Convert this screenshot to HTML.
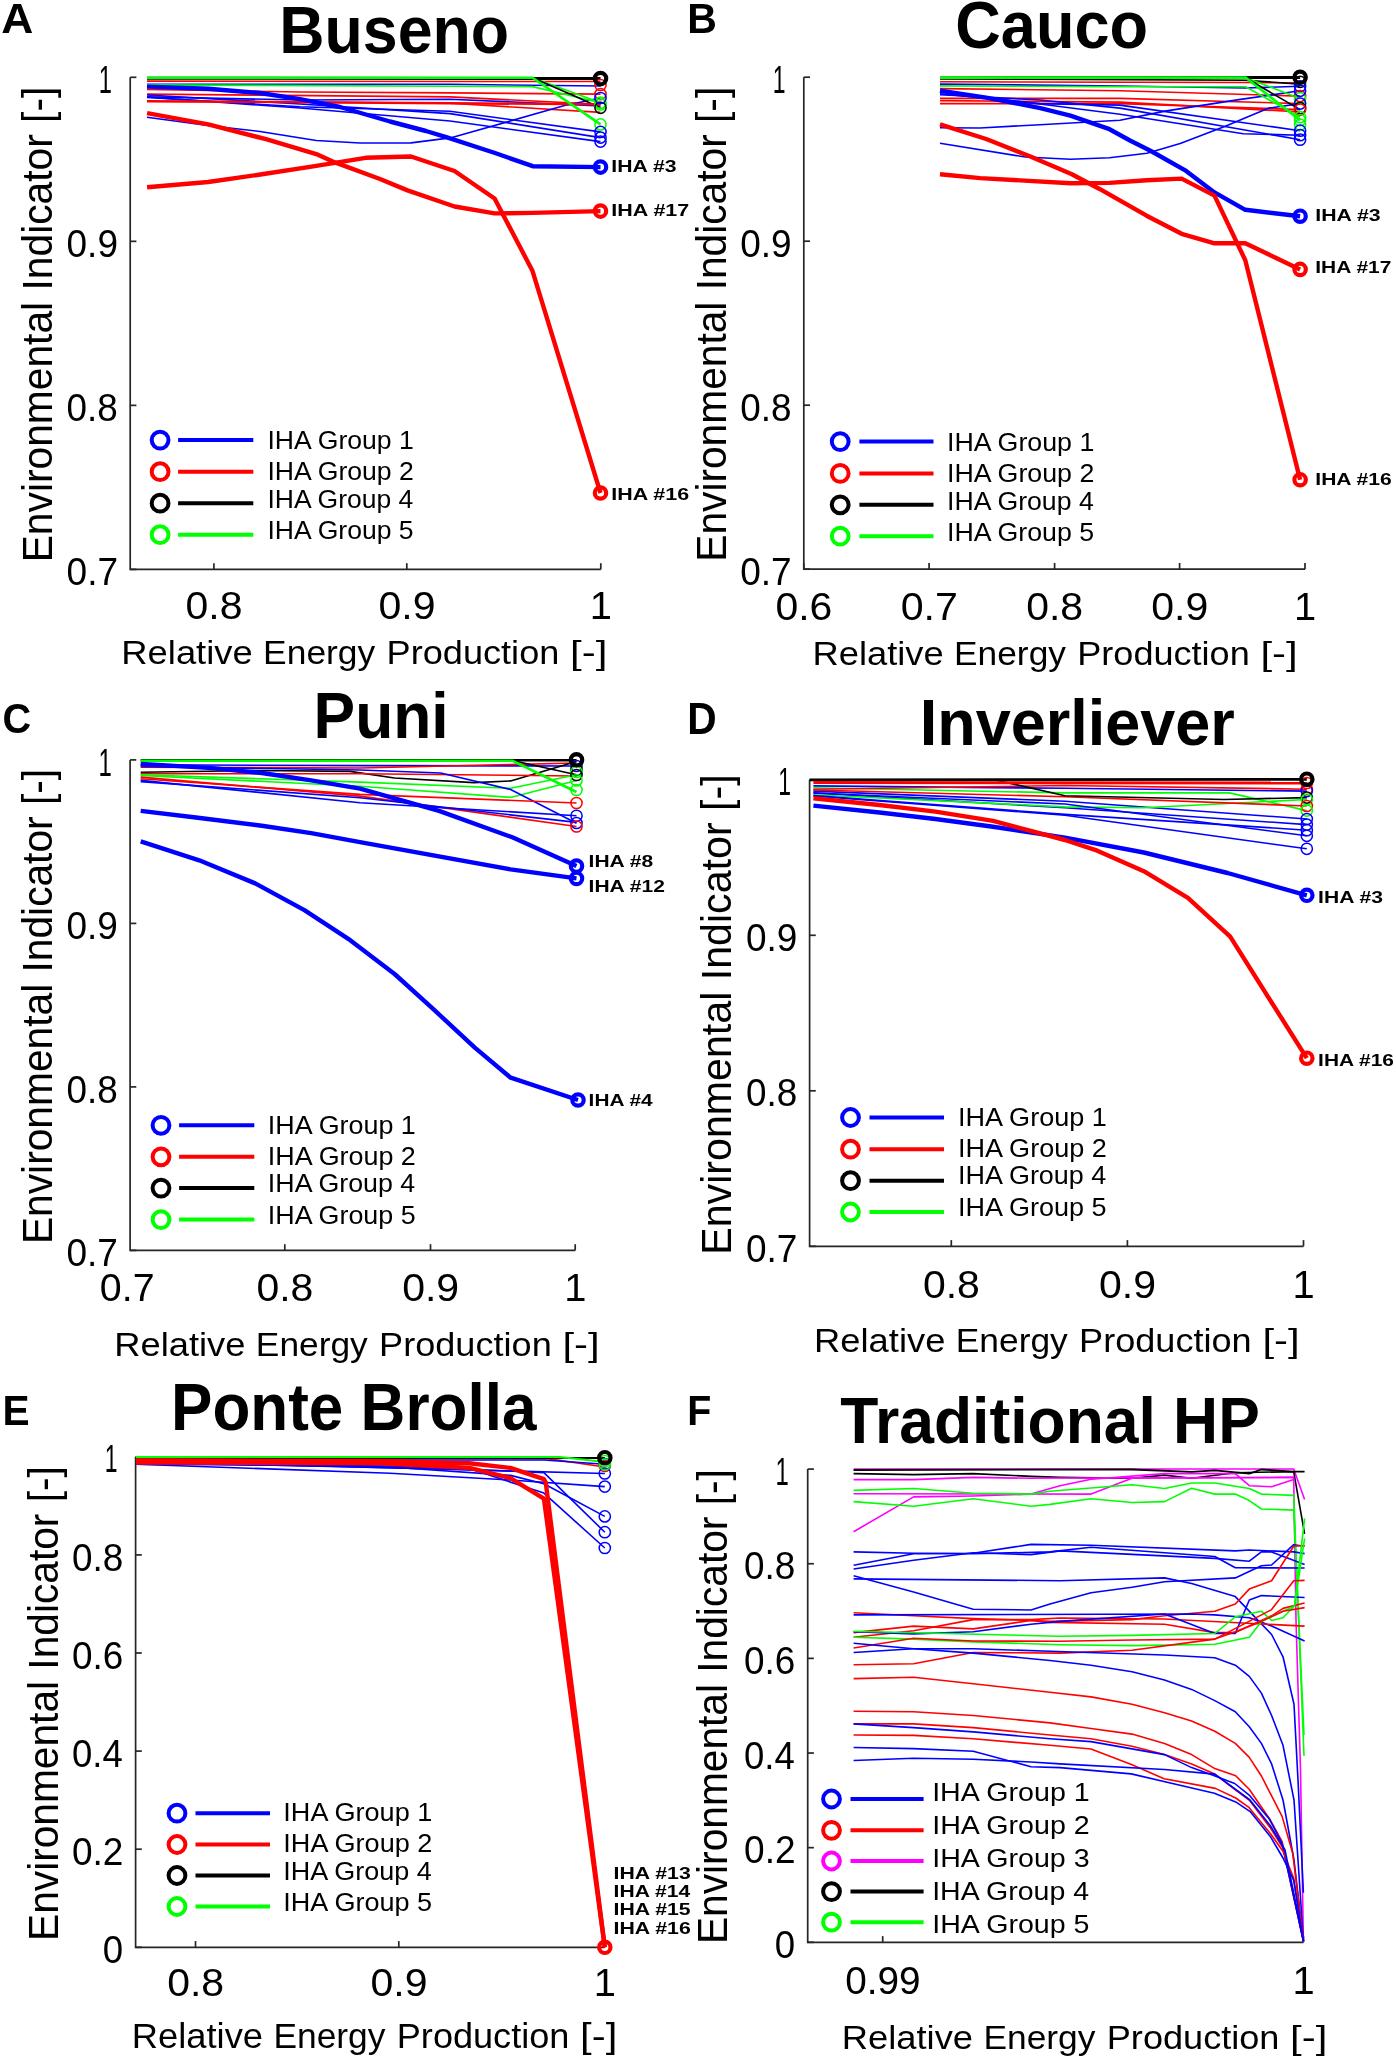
<!DOCTYPE html>
<html><head><meta charset="utf-8"><style>
html,body{margin:0;padding:0;background:#fff;}
svg{display:block;font-family:"Liberation Sans",sans-serif;will-change:transform;}
</style></head><body>
<svg width="1396" height="2059" viewBox="0 0 1396 2059">
<rect width="1396" height="2059" fill="#fff"/>
<text x="1.19" y="32.80" font-size="43.31" font-weight="bold" textLength="32.08" lengthAdjust="spacingAndGlyphs" fill="#000" >A</text>
<text x="279.21" y="52.80" font-size="65.84" font-weight="bold" textLength="229.94" lengthAdjust="spacingAndGlyphs" fill="#000" >Buseno</text>
<path d="M130.2,77.3 V569.4 H600.8" fill="none" stroke="#262626" stroke-width="1.7"/>
<path d="M213.9,569.4 v-6.2" stroke="#262626" stroke-width="1.7"/>
<path d="M406.8,569.4 v-6.2" stroke="#262626" stroke-width="1.7"/>
<path d="M600.8,569.4 v-6.2" stroke="#262626" stroke-width="1.7"/>
<path d="M130.2,77.3 h6.2" stroke="#262626" stroke-width="1.7"/>
<path d="M130.2,241.33333333333331 h6.2" stroke="#262626" stroke-width="1.7"/>
<path d="M130.2,405.3666666666667 h6.2" stroke="#262626" stroke-width="1.7"/>
<path d="M130.2,569.4 h6.2" stroke="#262626" stroke-width="1.7"/>
<text x="98.80" y="92.90" font-size="38.00" font-weight="normal" textLength="13.16" lengthAdjust="spacingAndGlyphs" fill="#000" >1</text>
<text x="66.56" y="256.93" font-size="38.00" font-weight="normal" textLength="51.40" lengthAdjust="spacingAndGlyphs" fill="#000" >0.9</text>
<text x="66.56" y="420.97" font-size="38.00" font-weight="normal" textLength="51.24" lengthAdjust="spacingAndGlyphs" fill="#000" >0.8</text>
<text x="66.55" y="585.00" font-size="38.00" font-weight="normal" textLength="51.51" lengthAdjust="spacingAndGlyphs" fill="#000" >0.7</text>
<text x="185.55" y="619.10" font-size="39.00" font-weight="normal" textLength="56.88" lengthAdjust="spacingAndGlyphs" fill="#000" >0.8</text>
<text x="378.45" y="619.10" font-size="39.00" font-weight="normal" textLength="57.05" lengthAdjust="spacingAndGlyphs" fill="#000" >0.9</text>
<text x="589.86" y="619.10" font-size="39.00" font-weight="normal" textLength="22.19" lengthAdjust="spacingAndGlyphs" fill="#000" >1</text>
<text transform="translate(52.30,559.00) rotate(-90)" x="-3.34" y="0" font-size="43.31" textLength="475.65" lengthAdjust="spacingAndGlyphs" fill="#000">Environmental Indicator [-]</text>
<text x="121.32" y="663.50" font-size="33.87" font-weight="normal" textLength="131.39" lengthAdjust="spacingAndGlyphs" fill="#000" >Relative</text>
<text x="263.12" y="663.50" font-size="33.87" font-weight="normal" textLength="112.10" lengthAdjust="spacingAndGlyphs" fill="#000" >Energy</text>
<text x="386.54" y="663.50" font-size="33.87" font-weight="normal" textLength="172.82" lengthAdjust="spacingAndGlyphs" fill="#000" >Production</text>
<text x="570.11" y="663.50" font-size="33.87" font-weight="normal" textLength="37.28" lengthAdjust="spacingAndGlyphs" fill="#000" >[-]</text>
<circle cx="160.1" cy="440.1" r="8.4" fill="none" stroke="#0000ff" stroke-width="4.0"/>
<path d="M178.1,440.1 H253.3" stroke="#0000ff" stroke-width="4"/>
<circle cx="160.1" cy="471.7" r="8.4" fill="none" stroke="#ff0000" stroke-width="4.0"/>
<path d="M178.1,471.7 H253.3" stroke="#ff0000" stroke-width="4"/>
<circle cx="160.1" cy="503.2" r="8.4" fill="none" stroke="#000000" stroke-width="4.0"/>
<path d="M178.1,503.2 H253.3" stroke="#000000" stroke-width="4"/>
<circle cx="160.1" cy="534.7" r="8.4" fill="none" stroke="#00ff00" stroke-width="4.0"/>
<path d="M178.1,534.7 H253.3" stroke="#00ff00" stroke-width="4"/>
<text x="267.47" y="449.10" font-size="26.50" font-weight="normal" textLength="146.31" lengthAdjust="spacingAndGlyphs" fill="#000" >IHA Group 1</text>
<text x="267.47" y="480.20" font-size="26.50" font-weight="normal" textLength="146.35" lengthAdjust="spacingAndGlyphs" fill="#000" >IHA Group 2</text>
<text x="267.48" y="507.60" font-size="26.50" font-weight="normal" textLength="145.79" lengthAdjust="spacingAndGlyphs" fill="#000" >IHA Group 4</text>
<text x="267.47" y="539.30" font-size="26.50" font-weight="normal" textLength="146.13" lengthAdjust="spacingAndGlyphs" fill="#000" >IHA Group 5</text>
<text x="687.26" y="32.80" font-size="43.31" font-weight="bold" textLength="29.60" lengthAdjust="spacingAndGlyphs" fill="#000" >B</text>
<text x="955.31" y="48.00" font-size="65.84" font-weight="bold" textLength="192.75" lengthAdjust="spacingAndGlyphs" fill="#000" >Cauco</text>
<path d="M803.8,77.2 V569.2 H1305" fill="none" stroke="#262626" stroke-width="1.7"/>
<path d="M803.8,569.2 v-6.2" stroke="#262626" stroke-width="1.7"/>
<path d="M929.1,569.2 v-6.2" stroke="#262626" stroke-width="1.7"/>
<path d="M1054.6,569.2 v-6.2" stroke="#262626" stroke-width="1.7"/>
<path d="M1179.6,569.2 v-6.2" stroke="#262626" stroke-width="1.7"/>
<path d="M1305,569.2 v-6.2" stroke="#262626" stroke-width="1.7"/>
<path d="M803.8,77.2 h6.2" stroke="#262626" stroke-width="1.7"/>
<path d="M803.8,241.20000000000005 h6.2" stroke="#262626" stroke-width="1.7"/>
<path d="M803.8,405.20000000000005 h6.2" stroke="#262626" stroke-width="1.7"/>
<path d="M803.8,569.2 h6.2" stroke="#262626" stroke-width="1.7"/>
<text x="772.65" y="92.80" font-size="38.00" font-weight="normal" textLength="12.77" lengthAdjust="spacingAndGlyphs" fill="#000" >1</text>
<text x="740.16" y="256.80" font-size="38.00" font-weight="normal" textLength="51.40" lengthAdjust="spacingAndGlyphs" fill="#000" >0.9</text>
<text x="740.16" y="420.80" font-size="38.00" font-weight="normal" textLength="51.24" lengthAdjust="spacingAndGlyphs" fill="#000" >0.8</text>
<text x="740.15" y="584.80" font-size="38.00" font-weight="normal" textLength="51.51" lengthAdjust="spacingAndGlyphs" fill="#000" >0.7</text>
<text x="775.45" y="619.80" font-size="39.00" font-weight="normal" textLength="56.90" lengthAdjust="spacingAndGlyphs" fill="#000" >0.6</text>
<text x="900.74" y="619.80" font-size="39.00" font-weight="normal" textLength="57.18" lengthAdjust="spacingAndGlyphs" fill="#000" >0.7</text>
<text x="1026.25" y="619.80" font-size="39.00" font-weight="normal" textLength="56.88" lengthAdjust="spacingAndGlyphs" fill="#000" >0.8</text>
<text x="1151.25" y="619.80" font-size="39.00" font-weight="normal" textLength="57.05" lengthAdjust="spacingAndGlyphs" fill="#000" >0.9</text>
<text x="1294.06" y="619.80" font-size="39.00" font-weight="normal" textLength="22.19" lengthAdjust="spacingAndGlyphs" fill="#000" >1</text>
<text transform="translate(725.80,558.40) rotate(-90)" x="-3.34" y="0" font-size="42.15" textLength="474.94" lengthAdjust="spacingAndGlyphs" fill="#000">Environmental Indicator [-]</text>
<text x="812.52" y="665.00" font-size="33.87" font-weight="normal" textLength="131.15" lengthAdjust="spacingAndGlyphs" fill="#000" >Relative</text>
<text x="954.06" y="665.00" font-size="33.87" font-weight="normal" textLength="111.89" lengthAdjust="spacingAndGlyphs" fill="#000" >Energy</text>
<text x="1077.25" y="665.00" font-size="33.87" font-weight="normal" textLength="172.50" lengthAdjust="spacingAndGlyphs" fill="#000" >Production</text>
<text x="1260.47" y="665.00" font-size="33.87" font-weight="normal" textLength="37.21" lengthAdjust="spacingAndGlyphs" fill="#000" >[-]</text>
<circle cx="840.2" cy="441.6" r="8.4" fill="none" stroke="#0000ff" stroke-width="4.0"/>
<path d="M859.4,441.6 H933.5" stroke="#0000ff" stroke-width="4"/>
<circle cx="840.2" cy="473.4" r="8.4" fill="none" stroke="#ff0000" stroke-width="4.0"/>
<path d="M859.4,473.4 H933.5" stroke="#ff0000" stroke-width="4"/>
<circle cx="840.2" cy="504.8" r="8.4" fill="none" stroke="#000000" stroke-width="4.0"/>
<path d="M859.4,504.8 H933.5" stroke="#000000" stroke-width="4"/>
<circle cx="840.2" cy="536.2" r="8.4" fill="none" stroke="#00ff00" stroke-width="4.0"/>
<path d="M859.4,536.2 H933.5" stroke="#00ff00" stroke-width="4"/>
<text x="947.06" y="450.60" font-size="26.50" font-weight="normal" textLength="147.24" lengthAdjust="spacingAndGlyphs" fill="#000" >IHA Group 1</text>
<text x="947.05" y="482.40" font-size="26.50" font-weight="normal" textLength="147.28" lengthAdjust="spacingAndGlyphs" fill="#000" >IHA Group 2</text>
<text x="947.06" y="509.80" font-size="26.50" font-weight="normal" textLength="146.71" lengthAdjust="spacingAndGlyphs" fill="#000" >IHA Group 4</text>
<text x="947.06" y="541.20" font-size="26.50" font-weight="normal" textLength="147.05" lengthAdjust="spacingAndGlyphs" fill="#000" >IHA Group 5</text>
<text x="2.47" y="733.20" font-size="43.17" font-weight="bold" textLength="28.72" lengthAdjust="spacingAndGlyphs" fill="#000" >C</text>
<text x="313.53" y="738.00" font-size="64.97" font-weight="bold" textLength="135.19" lengthAdjust="spacingAndGlyphs" fill="#000" >Puni</text>
<path d="M130.1,759.9 V1250.4 H575.2" fill="none" stroke="#262626" stroke-width="1.7"/>
<path d="M284.8,1250.4 v-6.2" stroke="#262626" stroke-width="1.7"/>
<path d="M430.5,1250.4 v-6.2" stroke="#262626" stroke-width="1.7"/>
<path d="M575.2,1250.4 v-6.2" stroke="#262626" stroke-width="1.7"/>
<path d="M130.1,759.9 h6.2" stroke="#262626" stroke-width="1.7"/>
<path d="M130.1,923.4 h6.2" stroke="#262626" stroke-width="1.7"/>
<path d="M130.1,1086.9 h6.2" stroke="#262626" stroke-width="1.7"/>
<path d="M130.1,1250.4 h6.2" stroke="#262626" stroke-width="1.7"/>
<text x="98.58" y="775.50" font-size="38.00" font-weight="normal" textLength="13.29" lengthAdjust="spacingAndGlyphs" fill="#000" >1</text>
<text x="66.46" y="939.00" font-size="38.00" font-weight="normal" textLength="51.40" lengthAdjust="spacingAndGlyphs" fill="#000" >0.9</text>
<text x="66.46" y="1102.50" font-size="38.00" font-weight="normal" textLength="51.24" lengthAdjust="spacingAndGlyphs" fill="#000" >0.8</text>
<text x="66.45" y="1266.00" font-size="38.00" font-weight="normal" textLength="51.51" lengthAdjust="spacingAndGlyphs" fill="#000" >0.7</text>
<text x="99.86" y="1300.80" font-size="39.00" font-weight="normal" textLength="54.72" lengthAdjust="spacingAndGlyphs" fill="#000" >0.7</text>
<text x="256.45" y="1300.80" font-size="39.00" font-weight="normal" textLength="56.88" lengthAdjust="spacingAndGlyphs" fill="#000" >0.8</text>
<text x="402.15" y="1300.80" font-size="39.00" font-weight="normal" textLength="57.05" lengthAdjust="spacingAndGlyphs" fill="#000" >0.9</text>
<text x="564.26" y="1300.80" font-size="39.00" font-weight="normal" textLength="22.19" lengthAdjust="spacingAndGlyphs" fill="#000" >1</text>
<text transform="translate(52.00,1240.70) rotate(-90)" x="-3.34" y="0" font-size="42.01" textLength="475.14" lengthAdjust="spacingAndGlyphs" fill="#000">Environmental Indicator [-]</text>
<text x="114.22" y="1355.80" font-size="33.58" font-weight="normal" textLength="131.23" lengthAdjust="spacingAndGlyphs" fill="#000" >Relative</text>
<text x="255.85" y="1355.80" font-size="33.58" font-weight="normal" textLength="111.96" lengthAdjust="spacingAndGlyphs" fill="#000" >Energy</text>
<text x="379.11" y="1355.80" font-size="33.58" font-weight="normal" textLength="172.60" lengthAdjust="spacingAndGlyphs" fill="#000" >Production</text>
<text x="562.45" y="1355.80" font-size="33.58" font-weight="normal" textLength="37.24" lengthAdjust="spacingAndGlyphs" fill="#000" >[-]</text>
<circle cx="161.0" cy="1125.3" r="8.4" fill="none" stroke="#0000ff" stroke-width="4.0"/>
<path d="M179.1,1125.3 H254.3" stroke="#0000ff" stroke-width="4"/>
<circle cx="161.0" cy="1156.8" r="8.4" fill="none" stroke="#ff0000" stroke-width="4.0"/>
<path d="M179.1,1156.8 H254.3" stroke="#ff0000" stroke-width="4"/>
<circle cx="161.0" cy="1188.1" r="8.4" fill="none" stroke="#000000" stroke-width="4.0"/>
<path d="M179.1,1188.1 H254.3" stroke="#000000" stroke-width="4"/>
<circle cx="161.0" cy="1219.6" r="8.4" fill="none" stroke="#00ff00" stroke-width="4.0"/>
<path d="M179.1,1219.6 H254.3" stroke="#00ff00" stroke-width="4"/>
<text x="267.84" y="1133.70" font-size="26.50" font-weight="normal" textLength="147.96" lengthAdjust="spacingAndGlyphs" fill="#000" >IHA Group 1</text>
<text x="267.84" y="1165.00" font-size="26.50" font-weight="normal" textLength="148.00" lengthAdjust="spacingAndGlyphs" fill="#000" >IHA Group 2</text>
<text x="267.85" y="1192.30" font-size="26.50" font-weight="normal" textLength="147.42" lengthAdjust="spacingAndGlyphs" fill="#000" >IHA Group 4</text>
<text x="267.85" y="1224.00" font-size="26.50" font-weight="normal" textLength="147.77" lengthAdjust="spacingAndGlyphs" fill="#000" >IHA Group 5</text>
<text x="687.27" y="733.70" font-size="43.46" font-weight="bold" textLength="29.44" lengthAdjust="spacingAndGlyphs" fill="#000" >D</text>
<text x="919.69" y="745.40" font-size="64.83" font-weight="bold" textLength="315.17" lengthAdjust="spacingAndGlyphs" fill="#000" >Inverliever</text>
<path d="M809.6,779.8 V1246.3 H1303.5" fill="none" stroke="#262626" stroke-width="1.7"/>
<path d="M951.3,1246.3 v-6.2" stroke="#262626" stroke-width="1.7"/>
<path d="M1127.4,1246.3 v-6.2" stroke="#262626" stroke-width="1.7"/>
<path d="M1303.5,1246.3 v-6.2" stroke="#262626" stroke-width="1.7"/>
<path d="M809.6,779.8 h6.2" stroke="#262626" stroke-width="1.7"/>
<path d="M809.6,935.3 h6.2" stroke="#262626" stroke-width="1.7"/>
<path d="M809.6,1090.8 h6.2" stroke="#262626" stroke-width="1.7"/>
<path d="M809.6,1246.3 h6.2" stroke="#262626" stroke-width="1.7"/>
<text x="778.25" y="795.40" font-size="38.00" font-weight="normal" textLength="12.77" lengthAdjust="spacingAndGlyphs" fill="#000" >1</text>
<text x="745.96" y="950.90" font-size="38.00" font-weight="normal" textLength="51.40" lengthAdjust="spacingAndGlyphs" fill="#000" >0.9</text>
<text x="745.96" y="1106.40" font-size="38.00" font-weight="normal" textLength="51.24" lengthAdjust="spacingAndGlyphs" fill="#000" >0.8</text>
<text x="745.95" y="1261.90" font-size="38.00" font-weight="normal" textLength="51.51" lengthAdjust="spacingAndGlyphs" fill="#000" >0.7</text>
<text x="922.95" y="1298.30" font-size="39.00" font-weight="normal" textLength="56.88" lengthAdjust="spacingAndGlyphs" fill="#000" >0.8</text>
<text x="1099.05" y="1298.30" font-size="39.00" font-weight="normal" textLength="57.05" lengthAdjust="spacingAndGlyphs" fill="#000" >0.9</text>
<text x="1292.56" y="1298.30" font-size="39.00" font-weight="normal" textLength="22.19" lengthAdjust="spacingAndGlyphs" fill="#000" >1</text>
<text transform="translate(730.70,1251.40) rotate(-90)" x="-3.38" y="0" font-size="42.73" textLength="480.41" lengthAdjust="spacingAndGlyphs" fill="#000">Environmental Indicator [-]</text>
<text x="814.12" y="1351.70" font-size="33.58" font-weight="normal" textLength="131.26" lengthAdjust="spacingAndGlyphs" fill="#000" >Relative</text>
<text x="955.78" y="1351.70" font-size="33.58" font-weight="normal" textLength="111.98" lengthAdjust="spacingAndGlyphs" fill="#000" >Energy</text>
<text x="1079.07" y="1351.70" font-size="33.58" font-weight="normal" textLength="172.64" lengthAdjust="spacingAndGlyphs" fill="#000" >Production</text>
<text x="1262.44" y="1351.70" font-size="33.58" font-weight="normal" textLength="37.25" lengthAdjust="spacingAndGlyphs" fill="#000" >[-]</text>
<circle cx="850.5" cy="1117.5" r="8.4" fill="none" stroke="#0000ff" stroke-width="4.0"/>
<path d="M869.5,1117.5 H944" stroke="#0000ff" stroke-width="4"/>
<circle cx="850.5" cy="1149.2" r="8.4" fill="none" stroke="#ff0000" stroke-width="4.0"/>
<path d="M869.5,1149.2 H944" stroke="#ff0000" stroke-width="4"/>
<circle cx="850.5" cy="1180.7" r="8.4" fill="none" stroke="#000000" stroke-width="4.0"/>
<path d="M869.5,1180.7 H944" stroke="#000000" stroke-width="4"/>
<circle cx="850.5" cy="1212.0" r="8.4" fill="none" stroke="#00ff00" stroke-width="4.0"/>
<path d="M869.5,1212 H944" stroke="#00ff00" stroke-width="4"/>
<text x="958.03" y="1125.50" font-size="26.50" font-weight="normal" textLength="148.78" lengthAdjust="spacingAndGlyphs" fill="#000" >IHA Group 1</text>
<text x="958.03" y="1157.00" font-size="26.50" font-weight="normal" textLength="148.82" lengthAdjust="spacingAndGlyphs" fill="#000" >IHA Group 2</text>
<text x="958.04" y="1184.00" font-size="26.50" font-weight="normal" textLength="148.24" lengthAdjust="spacingAndGlyphs" fill="#000" >IHA Group 4</text>
<text x="958.03" y="1216.00" font-size="26.50" font-weight="normal" textLength="148.59" lengthAdjust="spacingAndGlyphs" fill="#000" >IHA Group 5</text>
<text x="2.58" y="1424.70" font-size="43.17" font-weight="bold" textLength="27.11" lengthAdjust="spacingAndGlyphs" fill="#000" >E</text>
<text x="171.05" y="1430.20" font-size="65.84" font-weight="bold" textLength="365.36" lengthAdjust="spacingAndGlyphs" fill="#000" >Ponte Brolla</text>
<path d="M135.6,1456.8 V1947.3 H604.6" fill="none" stroke="#262626" stroke-width="1.7"/>
<path d="M195.5,1947.3 v-6.2" stroke="#262626" stroke-width="1.7"/>
<path d="M398.8,1947.3 v-6.2" stroke="#262626" stroke-width="1.7"/>
<path d="M604.6,1947.3 v-6.2" stroke="#262626" stroke-width="1.7"/>
<path d="M135.6,1456.8 h6.2" stroke="#262626" stroke-width="1.7"/>
<path d="M135.6,1554.8999999999999 h6.2" stroke="#262626" stroke-width="1.7"/>
<path d="M135.6,1653.0 h6.2" stroke="#262626" stroke-width="1.7"/>
<path d="M135.6,1751.1 h6.2" stroke="#262626" stroke-width="1.7"/>
<path d="M135.6,1849.1999999999998 h6.2" stroke="#262626" stroke-width="1.7"/>
<path d="M135.6,1947.3 h6.2" stroke="#262626" stroke-width="1.7"/>
<text x="104.65" y="1472.40" font-size="38.00" font-weight="normal" textLength="12.77" lengthAdjust="spacingAndGlyphs" fill="#000" >1</text>
<text x="71.96" y="1570.50" font-size="38.00" font-weight="normal" textLength="51.24" lengthAdjust="spacingAndGlyphs" fill="#000" >0.8</text>
<text x="71.96" y="1668.60" font-size="38.00" font-weight="normal" textLength="51.26" lengthAdjust="spacingAndGlyphs" fill="#000" >0.6</text>
<text x="71.98" y="1766.70" font-size="38.00" font-weight="normal" textLength="50.69" lengthAdjust="spacingAndGlyphs" fill="#000" >0.4</text>
<text x="71.95" y="1864.80" font-size="38.00" font-weight="normal" textLength="51.51" lengthAdjust="spacingAndGlyphs" fill="#000" >0.2</text>
<text x="102.67" y="1962.90" font-size="38.00" font-weight="normal" textLength="20.36" lengthAdjust="spacingAndGlyphs" fill="#000" >0</text>
<text x="167.15" y="1995.80" font-size="39.00" font-weight="normal" textLength="56.88" lengthAdjust="spacingAndGlyphs" fill="#000" >0.8</text>
<text x="370.45" y="1995.80" font-size="39.00" font-weight="normal" textLength="57.05" lengthAdjust="spacingAndGlyphs" fill="#000" >0.9</text>
<text x="593.66" y="1995.80" font-size="39.00" font-weight="normal" textLength="22.19" lengthAdjust="spacingAndGlyphs" fill="#000" >1</text>
<text transform="translate(57.90,1937.60) rotate(-90)" x="-3.34" y="0" font-size="41.86" textLength="474.74" lengthAdjust="spacingAndGlyphs" fill="#000">Environmental Indicator [-]</text>
<text x="131.82" y="2047.70" font-size="34.16" font-weight="normal" textLength="131.26" lengthAdjust="spacingAndGlyphs" fill="#000" >Relative</text>
<text x="273.48" y="2047.70" font-size="34.16" font-weight="normal" textLength="111.98" lengthAdjust="spacingAndGlyphs" fill="#000" >Energy</text>
<text x="396.77" y="2047.70" font-size="34.16" font-weight="normal" textLength="172.64" lengthAdjust="spacingAndGlyphs" fill="#000" >Production</text>
<text x="580.14" y="2047.70" font-size="34.16" font-weight="normal" textLength="37.25" lengthAdjust="spacingAndGlyphs" fill="#000" >[-]</text>
<circle cx="177.0" cy="1813.2" r="8.4" fill="none" stroke="#0000ff" stroke-width="4.0"/>
<path d="M195.5,1813.2 H270" stroke="#0000ff" stroke-width="4"/>
<circle cx="177.0" cy="1844.5" r="8.4" fill="none" stroke="#ff0000" stroke-width="4.0"/>
<path d="M195.5,1844.5 H270" stroke="#ff0000" stroke-width="4"/>
<circle cx="177.0" cy="1875.5" r="8.4" fill="none" stroke="#000000" stroke-width="4.0"/>
<path d="M195.5,1875.5 H270" stroke="#000000" stroke-width="4"/>
<circle cx="177.0" cy="1906.5" r="8.4" fill="none" stroke="#00ff00" stroke-width="4.0"/>
<path d="M195.5,1906.5 H270" stroke="#00ff00" stroke-width="4"/>
<text x="283.33" y="1821.00" font-size="26.50" font-weight="normal" textLength="148.98" lengthAdjust="spacingAndGlyphs" fill="#000" >IHA Group 1</text>
<text x="283.33" y="1852.00" font-size="26.50" font-weight="normal" textLength="149.02" lengthAdjust="spacingAndGlyphs" fill="#000" >IHA Group 2</text>
<text x="283.34" y="1879.50" font-size="26.50" font-weight="normal" textLength="148.45" lengthAdjust="spacingAndGlyphs" fill="#000" >IHA Group 4</text>
<text x="283.33" y="1910.50" font-size="26.50" font-weight="normal" textLength="148.79" lengthAdjust="spacingAndGlyphs" fill="#000" >IHA Group 5</text>
<text x="687.36" y="1424.70" font-size="43.17" font-weight="bold" textLength="24.08" lengthAdjust="spacingAndGlyphs" fill="#000" >F</text>
<text x="840.30" y="1442.70" font-size="65.55" font-weight="bold" textLength="419.51" lengthAdjust="spacingAndGlyphs" fill="#000" >Traditional HP</text>
<path d="M807.7,1469.1 V1942.3 H1303.5" fill="none" stroke="#262626" stroke-width="1.7"/>
<path d="M882.7,1942.3 v-6.2" stroke="#262626" stroke-width="1.7"/>
<path d="M1303.5,1942.3 v-6.2" stroke="#262626" stroke-width="1.7"/>
<path d="M807.7,1469.1 h6.2" stroke="#262626" stroke-width="1.7"/>
<path d="M807.7,1563.74 h6.2" stroke="#262626" stroke-width="1.7"/>
<path d="M807.7,1658.3799999999999 h6.2" stroke="#262626" stroke-width="1.7"/>
<path d="M807.7,1753.02 h6.2" stroke="#262626" stroke-width="1.7"/>
<path d="M807.7,1847.6599999999999 h6.2" stroke="#262626" stroke-width="1.7"/>
<path d="M807.7,1942.3 h6.2" stroke="#262626" stroke-width="1.7"/>
<text x="775.58" y="1484.70" font-size="38.00" font-weight="normal" textLength="13.29" lengthAdjust="spacingAndGlyphs" fill="#000" >1</text>
<text x="744.06" y="1579.34" font-size="38.00" font-weight="normal" textLength="51.24" lengthAdjust="spacingAndGlyphs" fill="#000" >0.8</text>
<text x="744.06" y="1673.98" font-size="38.00" font-weight="normal" textLength="51.26" lengthAdjust="spacingAndGlyphs" fill="#000" >0.6</text>
<text x="744.08" y="1768.62" font-size="38.00" font-weight="normal" textLength="50.69" lengthAdjust="spacingAndGlyphs" fill="#000" >0.4</text>
<text x="744.05" y="1863.26" font-size="38.00" font-weight="normal" textLength="51.51" lengthAdjust="spacingAndGlyphs" fill="#000" >0.2</text>
<text x="774.77" y="1957.90" font-size="38.00" font-weight="normal" textLength="20.36" lengthAdjust="spacingAndGlyphs" fill="#000" >0</text>
<text x="845.19" y="1994.30" font-size="39.00" font-weight="normal" textLength="75.35" lengthAdjust="spacingAndGlyphs" fill="#000" >0.99</text>
<text x="1292.56" y="1994.30" font-size="39.00" font-weight="normal" textLength="22.19" lengthAdjust="spacingAndGlyphs" fill="#000" >1</text>
<text transform="translate(726.90,1940.70) rotate(-90)" x="-3.34" y="0" font-size="42.01" textLength="474.84" lengthAdjust="spacingAndGlyphs" fill="#000">Environmental Indicator [-]</text>
<text x="841.82" y="2049.10" font-size="34.01" font-weight="normal" textLength="131.26" lengthAdjust="spacingAndGlyphs" fill="#000" >Relative</text>
<text x="983.48" y="2049.10" font-size="34.01" font-weight="normal" textLength="111.98" lengthAdjust="spacingAndGlyphs" fill="#000" >Energy</text>
<text x="1106.77" y="2049.10" font-size="34.01" font-weight="normal" textLength="172.64" lengthAdjust="spacingAndGlyphs" fill="#000" >Production</text>
<text x="1290.14" y="2049.10" font-size="34.01" font-weight="normal" textLength="37.25" lengthAdjust="spacingAndGlyphs" fill="#000" >[-]</text>
<circle cx="831.5" cy="1799.0" r="8.4" fill="none" stroke="#0000ff" stroke-width="4.0"/>
<path d="M850.5,1799 H923.6" stroke="#0000ff" stroke-width="4"/>
<circle cx="831.5" cy="1830.3" r="8.4" fill="none" stroke="#ff0000" stroke-width="4.0"/>
<path d="M850.5,1830.3 H923.6" stroke="#ff0000" stroke-width="4"/>
<circle cx="831.5" cy="1861.0" r="8.4" fill="none" stroke="#ff00ff" stroke-width="4.0"/>
<path d="M850.5,1861 H923.6" stroke="#ff00ff" stroke-width="4"/>
<circle cx="831.5" cy="1891.6" r="8.4" fill="none" stroke="#000000" stroke-width="4.0"/>
<path d="M850.5,1891.6 H923.6" stroke="#000000" stroke-width="4"/>
<circle cx="831.5" cy="1922.2" r="8.4" fill="none" stroke="#00ff00" stroke-width="4.0"/>
<path d="M850.5,1922.2 H923.6" stroke="#00ff00" stroke-width="4"/>
<text x="932.18" y="1800.80" font-size="26.50" font-weight="normal" textLength="157.50" lengthAdjust="spacingAndGlyphs" fill="#000" >IHA Group 1</text>
<text x="932.18" y="1833.90" font-size="26.50" font-weight="normal" textLength="157.54" lengthAdjust="spacingAndGlyphs" fill="#000" >IHA Group 2</text>
<text x="932.19" y="1866.80" font-size="26.50" font-weight="normal" textLength="157.36" lengthAdjust="spacingAndGlyphs" fill="#000" >IHA Group 3</text>
<text x="932.19" y="1899.70" font-size="26.50" font-weight="normal" textLength="156.93" lengthAdjust="spacingAndGlyphs" fill="#000" >IHA Group 4</text>
<text x="932.19" y="1932.50" font-size="26.50" font-weight="normal" textLength="157.30" lengthAdjust="spacingAndGlyphs" fill="#000" >IHA Group 5</text>
<polyline points="147.0,81.1 450.0,81.5 600.5,81.5" fill="none" stroke="#ff0000" stroke-width="1.6" stroke-linejoin="round" stroke-linecap="butt"/>
<polyline points="147.0,84.3 450.0,84.3 600.5,86.0" fill="none" stroke="#0000ff" stroke-width="1.6" stroke-linejoin="round" stroke-linecap="butt"/>
<polyline points="147.0,89.5 300.0,92.0 450.0,92.9 600.5,94.1" fill="none" stroke="#ff0000" stroke-width="1.6" stroke-linejoin="round" stroke-linecap="butt"/>
<polyline points="147.0,94.1 450.0,96.9 600.5,104.4" fill="none" stroke="#ff0000" stroke-width="1.6" stroke-linejoin="round" stroke-linecap="butt"/>
<polyline points="147.0,96.9 300.0,100.0 450.0,99.2 600.5,106.0" fill="none" stroke="#0000ff" stroke-width="1.6" stroke-linejoin="round" stroke-linecap="butt"/>
<polyline points="147.0,97.5 300.0,106.7 450.0,111.3 600.5,131.9" fill="none" stroke="#0000ff" stroke-width="1.6" stroke-linejoin="round" stroke-linecap="butt"/>
<polyline points="147.0,95.0 300.0,104.0 450.0,113.6 600.5,137.6" fill="none" stroke="#0000ff" stroke-width="1.6" stroke-linejoin="round" stroke-linecap="butt"/>
<polyline points="147.0,97.0 300.0,108.0 450.0,121.0 600.5,141.6" fill="none" stroke="#0000ff" stroke-width="1.6" stroke-linejoin="round" stroke-linecap="butt"/>
<polyline points="147.0,101.2 450.0,103.2 600.5,112.4" fill="none" stroke="#ff0000" stroke-width="1.6" stroke-linejoin="round" stroke-linecap="butt"/>
<polyline points="147.0,117.2 208.0,125.5 260.0,131.5 316.3,140.5 360.0,143.0 411.0,142.9 452.0,137.6 564.6,105.5 600.5,98.0" fill="none" stroke="#0000ff" stroke-width="1.6" stroke-linejoin="round" stroke-linecap="butt"/>
<polyline points="147.0,84.9 532.5,86.6 600.5,102.7" fill="none" stroke="#00ff00" stroke-width="1.6" stroke-linejoin="round" stroke-linecap="butt"/>
<polyline points="532.5,77.8 600.5,102.7" fill="none" stroke="#00ff00" stroke-width="1.6" stroke-linejoin="round" stroke-linecap="butt"/>
<polyline points="532.5,77.8 570.0,94.0 600.5,107.8" fill="none" stroke="#000000" stroke-width="1.6" stroke-linejoin="round" stroke-linecap="butt"/>
<polyline points="147.0,101.2 450.0,103.2 600.5,104.4" fill="none" stroke="#ff0000" stroke-width="2.4" stroke-linejoin="round" stroke-linecap="butt"/>
<polyline points="147.0,78.2 600.5,78.6" fill="none" stroke="#000000" stroke-width="3.0" stroke-linejoin="round" stroke-linecap="butt"/>
<polyline points="147.0,77.8 532.5,77.8 600.5,124.4" fill="none" stroke="#00ff00" stroke-width="2.6" stroke-linejoin="round" stroke-linecap="butt"/>
<polyline points="147.0,86.6 208.0,88.8 260.0,93.0 300.0,99.2 340.0,107.0 390.0,121.5 426.0,131.0 447.0,137.3 495.0,153.0 532.7,166.2 600.5,167.1" fill="none" stroke="#0000ff" stroke-width="4.4" stroke-linejoin="round" stroke-linecap="butt"/>
<polyline points="147.1,113.1 208.2,124.3 266.0,139.2 316.3,154.1 334.9,162.4 380.0,179.0 407.5,190.4 454.5,206.5 494.6,213.4 532.4,212.9 600.5,211.1" fill="none" stroke="#ff0000" stroke-width="4.4" stroke-linejoin="round" stroke-linecap="butt"/>
<polyline points="147.1,187.2 208.2,182.0 260.4,174.5 316.3,165.8 365.6,157.8 411.0,156.5 454.5,171.0 494.6,198.5 532.4,270.7 600.5,493.0" fill="none" stroke="#ff0000" stroke-width="4.4" stroke-linejoin="round" stroke-linecap="butt"/>
<circle cx="600.5" cy="85.0" r="5.6" fill="none" stroke="#ff0000" stroke-width="1.5"/>
<circle cx="600.5" cy="94.1" r="5.6" fill="none" stroke="#ff0000" stroke-width="1.5"/>
<circle cx="600.5" cy="102.7" r="5.6" fill="none" stroke="#00ff00" stroke-width="1.5"/>
<circle cx="600.5" cy="104.5" r="5.6" fill="none" stroke="#00ff00" stroke-width="1.5"/>
<circle cx="600.5" cy="107.8" r="5.6" fill="none" stroke="#000000" stroke-width="1.5"/>
<circle cx="600.5" cy="124.4" r="5.6" fill="none" stroke="#00ff00" stroke-width="1.5"/>
<circle cx="600.5" cy="131.9" r="5.6" fill="none" stroke="#0000ff" stroke-width="1.5"/>
<circle cx="600.5" cy="137.6" r="5.6" fill="none" stroke="#0000ff" stroke-width="1.5"/>
<circle cx="600.5" cy="141.6" r="5.6" fill="none" stroke="#0000ff" stroke-width="1.5"/>
<circle cx="600.5" cy="98.0" r="5.6" fill="none" stroke="#0000ff" stroke-width="1.5"/>
<circle cx="600.5" cy="78.6" r="5.7" fill="none" stroke="#000000" stroke-width="4.2"/>
<circle cx="600.5" cy="167.1" r="5.7" fill="none" stroke="#0000ff" stroke-width="4.2"/>
<circle cx="600.5" cy="211.1" r="5.7" fill="none" stroke="#ff0000" stroke-width="4.2"/>
<circle cx="600.5" cy="493.0" r="5.7" fill="none" stroke="#ff0000" stroke-width="4.2"/>
<text x="611.30" y="172.10" font-size="15.99" font-weight="bold" textLength="65.16" lengthAdjust="spacingAndGlyphs" fill="#000" >IHA #3</text>
<text x="611.28" y="216.10" font-size="15.99" font-weight="bold" textLength="77.96" lengthAdjust="spacingAndGlyphs" fill="#000" >IHA #17</text>
<text x="611.28" y="499.90" font-size="15.99" font-weight="bold" textLength="77.78" lengthAdjust="spacingAndGlyphs" fill="#000" >IHA #16</text>
<polyline points="940.0,81.8 1245.0,82.5 1300.1,83.0" fill="none" stroke="#ff0000" stroke-width="1.6" stroke-linejoin="round" stroke-linecap="butt"/>
<polyline points="940.0,84.1 1120.0,86.0 1245.0,88.0 1300.1,86.3" fill="none" stroke="#0000ff" stroke-width="1.6" stroke-linejoin="round" stroke-linecap="butt"/>
<polyline points="940.0,78.8 1245.0,80.3 1300.1,84.1" fill="none" stroke="#000000" stroke-width="1.6" stroke-linejoin="round" stroke-linecap="butt"/>
<polyline points="940.0,88.6 1120.0,90.8 1300.1,96.1" fill="none" stroke="#ff0000" stroke-width="1.6" stroke-linejoin="round" stroke-linecap="butt"/>
<polyline points="940.0,98.4 1120.0,98.4 1300.1,103.6" fill="none" stroke="#ff0000" stroke-width="1.6" stroke-linejoin="round" stroke-linecap="butt"/>
<polyline points="940.0,100.6 1120.0,102.1 1300.1,111.9" fill="none" stroke="#ff0000" stroke-width="1.6" stroke-linejoin="round" stroke-linecap="butt"/>
<polyline points="940.0,103.6 1120.0,103.6 1300.1,109.6" fill="none" stroke="#ff0000" stroke-width="1.6" stroke-linejoin="round" stroke-linecap="butt"/>
<polyline points="940.0,93.8 1040.0,103.6 1120.0,105.1 1300.1,130.7" fill="none" stroke="#0000ff" stroke-width="1.6" stroke-linejoin="round" stroke-linecap="butt"/>
<polyline points="940.0,94.6 1040.0,100.0 1120.0,108.1 1300.1,139.7" fill="none" stroke="#0000ff" stroke-width="1.6" stroke-linejoin="round" stroke-linecap="butt"/>
<polyline points="940.0,92.0 1040.0,104.0 1120.0,114.2 1243.3,133.7 1300.1,135.2" fill="none" stroke="#0000ff" stroke-width="1.6" stroke-linejoin="round" stroke-linecap="butt"/>
<polyline points="940.0,127.7 980.0,128.0 1040.0,124.7 1120.0,120.2 1165.0,111.1 1237.3,99.9 1300.1,90.8" fill="none" stroke="#0000ff" stroke-width="1.6" stroke-linejoin="round" stroke-linecap="butt"/>
<polyline points="940.0,143.2 1025.3,157.0 1070.4,159.3 1109.5,157.8 1147.0,153.3 1180.2,143.5 1225.3,126.2 1268.9,108.1 1300.1,103.6" fill="none" stroke="#0000ff" stroke-width="1.6" stroke-linejoin="round" stroke-linecap="butt"/>
<polyline points="940.0,85.9 1130.0,86.8 1245.6,86.8 1300.1,117.2" fill="none" stroke="#00ff00" stroke-width="1.6" stroke-linejoin="round" stroke-linecap="butt"/>
<polyline points="1245.6,77.7 1300.1,98.4" fill="none" stroke="#00ff00" stroke-width="1.6" stroke-linejoin="round" stroke-linecap="butt"/>
<polyline points="1245.6,77.7 1260.0,86.3 1300.1,109.6" fill="none" stroke="#000000" stroke-width="1.6" stroke-linejoin="round" stroke-linecap="butt"/>
<polyline points="940.0,77.9 1300.1,77.5" fill="none" stroke="#000000" stroke-width="3.0" stroke-linejoin="round" stroke-linecap="butt"/>
<polyline points="940.0,77.6 1245.6,77.6 1300.1,120.2" fill="none" stroke="#00ff00" stroke-width="2.6" stroke-linejoin="round" stroke-linecap="butt"/>
<polyline points="940.0,90.8 986.2,97.6 1040.3,108.1 1070.4,115.7 1109.5,129.2 1130.0,140.5 1150.9,151.0 1184.8,170.1 1214.5,192.4 1245.3,209.8 1300.1,216.2" fill="none" stroke="#0000ff" stroke-width="4.4" stroke-linejoin="round" stroke-linecap="butt"/>
<polyline points="940.0,124.4 986.2,139.0 1029.8,156.3 1071.9,174.3 1100.0,189.2 1146.6,215.7 1181.6,233.8 1214.5,243.3 1245.3,243.3 1300.1,269.4" fill="none" stroke="#ff0000" stroke-width="4.4" stroke-linejoin="round" stroke-linecap="butt"/>
<polyline points="940.0,174.3 980.2,178.1 1070.4,183.3 1109.5,182.9 1146.6,180.3 1181.6,178.6 1214.5,195.6 1245.3,260.3 1300.1,479.7" fill="none" stroke="#ff0000" stroke-width="4.4" stroke-linejoin="round" stroke-linecap="butt"/>
<circle cx="1300.1" cy="81.8" r="5.6" fill="none" stroke="#000000" stroke-width="1.5"/>
<circle cx="1300.1" cy="86.3" r="5.6" fill="none" stroke="#0000ff" stroke-width="1.5"/>
<circle cx="1300.1" cy="96.1" r="5.6" fill="none" stroke="#ff0000" stroke-width="1.5"/>
<circle cx="1300.1" cy="98.4" r="5.6" fill="none" stroke="#00ff00" stroke-width="1.5"/>
<circle cx="1300.1" cy="103.6" r="5.6" fill="none" stroke="#0000ff" stroke-width="1.5"/>
<circle cx="1300.1" cy="108.1" r="5.6" fill="none" stroke="#000000" stroke-width="1.5"/>
<circle cx="1300.1" cy="109.6" r="5.6" fill="none" stroke="#ff0000" stroke-width="1.5"/>
<circle cx="1300.1" cy="117.2" r="5.6" fill="none" stroke="#00ff00" stroke-width="1.5"/>
<circle cx="1300.1" cy="120.2" r="5.6" fill="none" stroke="#00ff00" stroke-width="1.5"/>
<circle cx="1300.1" cy="124.7" r="5.6" fill="none" stroke="#00ff00" stroke-width="1.5"/>
<circle cx="1300.1" cy="130.7" r="5.6" fill="none" stroke="#0000ff" stroke-width="1.5"/>
<circle cx="1300.1" cy="135.2" r="5.6" fill="none" stroke="#0000ff" stroke-width="1.5"/>
<circle cx="1300.1" cy="139.7" r="5.6" fill="none" stroke="#0000ff" stroke-width="1.5"/>
<circle cx="1300.1" cy="90.8" r="5.6" fill="none" stroke="#0000ff" stroke-width="1.5"/>
<circle cx="1300.1" cy="77.3" r="5.7" fill="none" stroke="#000000" stroke-width="4.2"/>
<circle cx="1300.1" cy="216.2" r="5.7" fill="none" stroke="#0000ff" stroke-width="4.2"/>
<circle cx="1300.1" cy="269.4" r="5.7" fill="none" stroke="#ff0000" stroke-width="4.2"/>
<circle cx="1300.1" cy="479.7" r="5.7" fill="none" stroke="#ff0000" stroke-width="4.2"/>
<text x="1315.30" y="221.00" font-size="15.99" font-weight="bold" textLength="65.36" lengthAdjust="spacingAndGlyphs" fill="#000" >IHA #3</text>
<text x="1315.31" y="273.00" font-size="15.99" font-weight="bold" textLength="76.10" lengthAdjust="spacingAndGlyphs" fill="#000" >IHA #17</text>
<text x="1315.31" y="485.00" font-size="15.99" font-weight="bold" textLength="76.45" lengthAdjust="spacingAndGlyphs" fill="#000" >IHA #16</text>
<polyline points="140.7,764.8 360.0,765.6 576.5,766.0" fill="none" stroke="#0000ff" stroke-width="1.6" stroke-linejoin="round" stroke-linecap="butt"/>
<polyline points="140.7,767.2 360.0,768.0 576.5,763.0" fill="none" stroke="#ff0000" stroke-width="1.6" stroke-linejoin="round" stroke-linecap="butt"/>
<polyline points="140.7,772.2 260.0,770.5 350.0,771.4 394.5,778.0 473.6,782.6 510.6,780.9 576.5,761.5" fill="none" stroke="#000000" stroke-width="1.6" stroke-linejoin="round" stroke-linecap="butt"/>
<polyline points="140.7,773.8 360.0,773.8 576.5,776.0" fill="none" stroke="#ff0000" stroke-width="1.6" stroke-linejoin="round" stroke-linecap="butt"/>
<polyline points="140.7,774.7 360.0,782.1 510.6,788.2 576.5,774.7" fill="none" stroke="#00ff00" stroke-width="1.6" stroke-linejoin="round" stroke-linecap="butt"/>
<polyline points="140.7,775.5 360.0,786.2 510.6,797.4 576.5,780.4" fill="none" stroke="#00ff00" stroke-width="1.6" stroke-linejoin="round" stroke-linecap="butt"/>
<polyline points="140.7,766.5 360.0,770.0 440.6,773.0 510.6,789.5 576.5,823.3" fill="none" stroke="#0000ff" stroke-width="1.6" stroke-linejoin="round" stroke-linecap="butt"/>
<polyline points="140.7,777.1 360.0,796.1 576.5,826.5" fill="none" stroke="#ff0000" stroke-width="1.6" stroke-linejoin="round" stroke-linecap="butt"/>
<polyline points="140.7,778.8 360.0,794.4 576.5,803.0" fill="none" stroke="#ff0000" stroke-width="1.6" stroke-linejoin="round" stroke-linecap="butt"/>
<polyline points="140.7,780.4 360.0,802.7 576.5,815.8" fill="none" stroke="#0000ff" stroke-width="1.6" stroke-linejoin="round" stroke-linecap="butt"/>
<polyline points="140.7,781.6 360.0,797.7 576.5,822.4" fill="none" stroke="#0000ff" stroke-width="1.6" stroke-linejoin="round" stroke-linecap="butt"/>
<polyline points="512.3,760.5 576.5,774.7" fill="none" stroke="#000000" stroke-width="1.6" stroke-linejoin="round" stroke-linecap="butt"/>
<polyline points="140.7,760.3 576.5,760.3" fill="none" stroke="#000000" stroke-width="2.6" stroke-linejoin="round" stroke-linecap="butt"/>
<polyline points="140.7,760.7 512.3,760.7 576.5,792.0" fill="none" stroke="#00ff00" stroke-width="2.6" stroke-linejoin="round" stroke-linecap="butt"/>
<polyline points="140.7,763.9 212.4,768.1 261.8,773.0 311.2,780.4 360.0,788.7 439.0,810.9 512.3,837.3 576.5,866.1" fill="none" stroke="#0000ff" stroke-width="4.4" stroke-linejoin="round" stroke-linecap="butt"/>
<polyline points="140.7,810.9 195.9,817.5 261.8,825.7 311.2,833.1 360.0,842.2 510.6,869.4 576.5,878.4" fill="none" stroke="#0000ff" stroke-width="4.4" stroke-linejoin="round" stroke-linecap="butt"/>
<polyline points="140.7,841.4 199.2,860.3 255.2,883.4 304.4,910.1 350.2,940.2 394.6,974.0 434.7,1010.4 474.8,1047.6 510.7,1077.7 578.0,1100.0" fill="none" stroke="#0000ff" stroke-width="4.4" stroke-linejoin="round" stroke-linecap="butt"/>
<circle cx="576.5" cy="761.0" r="5.6" fill="none" stroke="#ff0000" stroke-width="1.5"/>
<circle cx="576.5" cy="766.0" r="5.6" fill="none" stroke="#0000ff" stroke-width="1.5"/>
<circle cx="576.5" cy="770.0" r="5.6" fill="none" stroke="#000000" stroke-width="1.5"/>
<circle cx="576.5" cy="772.0" r="5.6" fill="none" stroke="#00ff00" stroke-width="1.5"/>
<circle cx="576.5" cy="775.0" r="5.6" fill="none" stroke="#000000" stroke-width="1.5"/>
<circle cx="576.5" cy="780.4" r="5.6" fill="none" stroke="#00ff00" stroke-width="1.5"/>
<circle cx="576.5" cy="790.0" r="5.6" fill="none" stroke="#00ff00" stroke-width="1.5"/>
<circle cx="576.5" cy="803.0" r="5.6" fill="none" stroke="#ff0000" stroke-width="1.5"/>
<circle cx="576.5" cy="815.8" r="5.6" fill="none" stroke="#0000ff" stroke-width="1.5"/>
<circle cx="576.5" cy="823.0" r="5.6" fill="none" stroke="#0000ff" stroke-width="1.5"/>
<circle cx="576.5" cy="826.5" r="5.6" fill="none" stroke="#ff0000" stroke-width="1.5"/>
<circle cx="576.5" cy="759.8" r="5.7" fill="none" stroke="#000000" stroke-width="4.2"/>
<circle cx="576.5" cy="866.1" r="5.7" fill="none" stroke="#0000ff" stroke-width="4.2"/>
<circle cx="576.5" cy="878.4" r="5.7" fill="none" stroke="#0000ff" stroke-width="4.2"/>
<circle cx="578.0" cy="1100.0" r="5.7" fill="none" stroke="#0000ff" stroke-width="4.2"/>
<text x="588.61" y="866.50" font-size="15.99" font-weight="bold" textLength="64.52" lengthAdjust="spacingAndGlyphs" fill="#000" >IHA #8</text>
<text x="588.61" y="892.00" font-size="15.99" font-weight="bold" textLength="76.22" lengthAdjust="spacingAndGlyphs" fill="#000" >IHA #12</text>
<text x="588.62" y="1106.00" font-size="16.72" font-weight="bold" textLength="63.99" lengthAdjust="spacingAndGlyphs" fill="#000" >IHA #4</text>
<polyline points="813.4,785.9 1065.0,788.3 1306.8,791.1" fill="none" stroke="#0000ff" stroke-width="1.6" stroke-linejoin="round" stroke-linecap="butt"/>
<polyline points="813.4,787.7 1065.0,792.9 1229.5,792.9 1306.8,810.6" fill="none" stroke="#00ff00" stroke-width="1.6" stroke-linejoin="round" stroke-linecap="butt"/>
<polyline points="813.4,789.2 1065.0,785.5 1306.8,789.2" fill="none" stroke="#ff0000" stroke-width="1.6" stroke-linejoin="round" stroke-linecap="butt"/>
<polyline points="813.4,791.1 1065.0,801.3 1306.8,819.0" fill="none" stroke="#0000ff" stroke-width="1.6" stroke-linejoin="round" stroke-linecap="butt"/>
<polyline points="813.4,792.9 1065.0,807.8 1306.8,824.6" fill="none" stroke="#0000ff" stroke-width="1.6" stroke-linejoin="round" stroke-linecap="butt"/>
<polyline points="813.4,794.8 1065.0,806.9 1143.8,807.8 1306.8,799.5" fill="none" stroke="#00ff00" stroke-width="1.6" stroke-linejoin="round" stroke-linecap="butt"/>
<polyline points="813.4,795.5 1065.0,814.4 1306.8,830.2" fill="none" stroke="#0000ff" stroke-width="1.6" stroke-linejoin="round" stroke-linecap="butt"/>
<polyline points="813.4,793.0 1065.0,804.0 1306.8,835.8" fill="none" stroke="#0000ff" stroke-width="1.6" stroke-linejoin="round" stroke-linecap="butt"/>
<polyline points="813.4,796.0 1065.0,815.3 1306.8,848.8" fill="none" stroke="#0000ff" stroke-width="1.6" stroke-linejoin="round" stroke-linecap="butt"/>
<polyline points="813.4,790.0 1065.0,796.7 1306.8,806.0" fill="none" stroke="#ff0000" stroke-width="1.6" stroke-linejoin="round" stroke-linecap="butt"/>
<polyline points="995.0,779.9 1065.0,795.7 1223.9,799.5 1306.8,797.6" fill="none" stroke="#000000" stroke-width="1.6" stroke-linejoin="round" stroke-linecap="butt"/>
<polyline points="809.6,779.9 1306.8,779.4" fill="none" stroke="#000000" stroke-width="2.8" stroke-linejoin="round" stroke-linecap="butt"/>
<polyline points="813.4,782.5 1306.8,783.0" fill="none" stroke="#ff0000" stroke-width="3.0" stroke-linejoin="round" stroke-linecap="butt"/>
<polyline points="813.4,805.6 879.5,812.5 935.4,819.0 991.3,826.5 1065.0,837.6 1143.8,852.5 1227.6,873.0 1306.8,895.3" fill="none" stroke="#0000ff" stroke-width="4.4" stroke-linejoin="round" stroke-linecap="butt"/>
<polyline points="813.4,798.2 879.5,805.0 935.4,811.6 993.1,820.9 1065.0,840.0 1097.3,850.7 1143.8,871.2 1187.9,897.9 1230.2,936.7 1306.8,1058.2" fill="none" stroke="#ff0000" stroke-width="4.4" stroke-linejoin="round" stroke-linecap="butt"/>
<circle cx="1306.8" cy="789.2" r="5.6" fill="none" stroke="#ff0000" stroke-width="1.5"/>
<circle cx="1306.8" cy="791.1" r="5.6" fill="none" stroke="#0000ff" stroke-width="1.5"/>
<circle cx="1306.8" cy="797.6" r="5.6" fill="none" stroke="#000000" stroke-width="1.5"/>
<circle cx="1306.8" cy="799.5" r="5.6" fill="none" stroke="#00ff00" stroke-width="1.5"/>
<circle cx="1306.8" cy="806.0" r="5.6" fill="none" stroke="#ff0000" stroke-width="1.5"/>
<circle cx="1306.8" cy="810.6" r="5.6" fill="none" stroke="#00ff00" stroke-width="1.5"/>
<circle cx="1306.8" cy="819.0" r="5.6" fill="none" stroke="#0000ff" stroke-width="1.5"/>
<circle cx="1306.8" cy="824.6" r="5.6" fill="none" stroke="#0000ff" stroke-width="1.5"/>
<circle cx="1306.8" cy="830.2" r="5.6" fill="none" stroke="#0000ff" stroke-width="1.5"/>
<circle cx="1306.8" cy="835.8" r="5.6" fill="none" stroke="#0000ff" stroke-width="1.5"/>
<circle cx="1306.8" cy="848.8" r="5.6" fill="none" stroke="#0000ff" stroke-width="1.5"/>
<circle cx="1306.8" cy="783.0" r="5.6" fill="none" stroke="#ff0000" stroke-width="1.5"/>
<circle cx="1306.8" cy="779.2" r="5.7" fill="none" stroke="#000000" stroke-width="4.2"/>
<circle cx="1306.8" cy="895.3" r="5.7" fill="none" stroke="#0000ff" stroke-width="4.2"/>
<circle cx="1306.8" cy="1058.2" r="5.7" fill="none" stroke="#ff0000" stroke-width="4.2"/>
<text x="1318.11" y="903.20" font-size="15.99" font-weight="bold" textLength="64.85" lengthAdjust="spacingAndGlyphs" fill="#000" >IHA #3</text>
<text x="1318.12" y="1065.80" font-size="15.99" font-weight="bold" textLength="75.83" lengthAdjust="spacingAndGlyphs" fill="#000" >IHA #16</text>
<polyline points="136.0,1458.0 547.6,1458.6 604.8,1467.0" fill="none" stroke="#ff0000" stroke-width="1.6" stroke-linejoin="round" stroke-linecap="butt"/>
<polyline points="136.0,1464.2 390.0,1466.0 543.9,1472.6 604.8,1532.2" fill="none" stroke="#0000ff" stroke-width="1.6" stroke-linejoin="round" stroke-linecap="butt"/>
<polyline points="136.0,1464.2 390.0,1473.2 510.4,1480.0 604.8,1486.6" fill="none" stroke="#0000ff" stroke-width="1.6" stroke-linejoin="round" stroke-linecap="butt"/>
<polyline points="136.0,1463.0 390.0,1467.0 510.4,1475.4 543.9,1483.8 604.8,1516.4" fill="none" stroke="#0000ff" stroke-width="1.6" stroke-linejoin="round" stroke-linecap="butt"/>
<polyline points="136.0,1462.0 473.1,1469.8 543.9,1493.1 604.8,1548.0" fill="none" stroke="#0000ff" stroke-width="1.6" stroke-linejoin="round" stroke-linecap="butt"/>
<polyline points="136.0,1461.0 604.8,1473.5" fill="none" stroke="#0000ff" stroke-width="1.6" stroke-linejoin="round" stroke-linecap="butt"/>
<polyline points="136.0,1460.0 543.9,1460.0 604.8,1464.2" fill="none" stroke="#0000ff" stroke-width="1.6" stroke-linejoin="round" stroke-linecap="butt"/>
<polyline points="136.0,1457.4 604.8,1457.7" fill="none" stroke="#000000" stroke-width="2.4" stroke-linejoin="round" stroke-linecap="butt"/>
<polyline points="136.0,1457.1 560.0,1457.1 604.8,1462.0" fill="none" stroke="#00ff00" stroke-width="2.0" stroke-linejoin="round" stroke-linecap="butt"/>
<polyline points="136.0,1460.5 380.0,1461.2 469.4,1463.3 510.4,1467.9 543.9,1479.1 545.8,1482.8 604.8,1947.3" fill="none" stroke="#ff0000" stroke-width="4.4" stroke-linejoin="round" stroke-linecap="butt"/>
<polyline points="136.0,1462.5 380.0,1463.3 469.4,1467.9 510.4,1478.2 543.9,1498.7 604.8,1947.3" fill="none" stroke="#ff0000" stroke-width="4.4" stroke-linejoin="round" stroke-linecap="butt"/>
<circle cx="604.8" cy="1466.0" r="5.6" fill="none" stroke="#ff0000" stroke-width="1.5"/>
<circle cx="604.8" cy="1464.0" r="5.6" fill="none" stroke="#0000ff" stroke-width="1.5"/>
<circle cx="604.8" cy="1473.5" r="5.6" fill="none" stroke="#0000ff" stroke-width="1.5"/>
<circle cx="604.8" cy="1486.6" r="5.6" fill="none" stroke="#0000ff" stroke-width="1.5"/>
<circle cx="604.8" cy="1516.4" r="5.6" fill="none" stroke="#0000ff" stroke-width="1.5"/>
<circle cx="604.8" cy="1532.2" r="5.6" fill="none" stroke="#0000ff" stroke-width="1.5"/>
<circle cx="604.8" cy="1548.0" r="5.6" fill="none" stroke="#0000ff" stroke-width="1.5"/>
<circle cx="604.8" cy="1458.5" r="5.6" fill="none" stroke="#00ff00" stroke-width="1.5"/>
<circle cx="604.8" cy="1461.0" r="5.6" fill="none" stroke="#00ff00" stroke-width="1.5"/>
<circle cx="604.8" cy="1464.5" r="5.6" fill="none" stroke="#00ff00" stroke-width="1.5"/>
<circle cx="604.8" cy="1457.7" r="5.7" fill="none" stroke="#000000" stroke-width="4.2"/>
<circle cx="604.8" cy="1947.3" r="5.7" fill="none" stroke="#ff0000" stroke-width="4.2"/>
<text x="613.59" y="1879.00" font-size="15.99" font-weight="bold" textLength="77.17" lengthAdjust="spacingAndGlyphs" fill="#000" >IHA #13</text>
<text x="613.60" y="1896.50" font-size="15.99" font-weight="bold" textLength="76.51" lengthAdjust="spacingAndGlyphs" fill="#000" >IHA #14</text>
<text x="613.60" y="1915.00" font-size="15.99" font-weight="bold" textLength="76.99" lengthAdjust="spacingAndGlyphs" fill="#000" >IHA #15</text>
<text x="613.59" y="1934.00" font-size="15.99" font-weight="bold" textLength="77.17" lengthAdjust="spacingAndGlyphs" fill="#000" >IHA #16</text>
<polyline points="853.6,1469.0 1293.7,1469.0 1304.6,1499.6" fill="none" stroke="#ff00ff" stroke-width="1.6" stroke-linejoin="round" stroke-linecap="butt"/>
<polyline points="853.6,1473.6 913.6,1474.6 973.2,1473.6 1031.0,1476.4 1060.0,1477.4 1132.0,1478.3 1164.5,1475.1 1191.6,1478.3 1235.3,1472.7 1293.7,1471.7 1304.6,1533.8" fill="none" stroke="#000000" stroke-width="1.6" stroke-linejoin="round" stroke-linecap="butt"/>
<polyline points="853.6,1479.6 913.6,1479.6 973.2,1477.4 1031.0,1478.3 1060.0,1478.0 1293.7,1477.4 1296.0,1620.0 1300.5,1770.0 1303.4,1941.2" fill="none" stroke="#ff00ff" stroke-width="1.6" stroke-linejoin="round" stroke-linecap="butt"/>
<polyline points="853.6,1493.7 1091.0,1494.1 1132.0,1478.3 1293.7,1477.4" fill="none" stroke="#ff00ff" stroke-width="1.6" stroke-linejoin="round" stroke-linecap="butt"/>
<polyline points="853.6,1531.7 913.6,1496.9 973.2,1496.0 1031.0,1494.1 1060.0,1485.7 1091.0,1479.2 1164.5,1473.6 1235.3,1473.6 1249.3,1485.7 1271.6,1486.7 1293.7,1479.4" fill="none" stroke="#ff00ff" stroke-width="1.6" stroke-linejoin="round" stroke-linecap="butt"/>
<polyline points="853.6,1490.4 913.6,1488.5 973.2,1493.2 1031.0,1494.1 1050.0,1491.3 1132.0,1484.8 1164.5,1488.5 1191.6,1483.0 1214.8,1483.0 1249.3,1488.5 1261.4,1494.1 1293.7,1495.4 1304.0,1756.0" fill="none" stroke="#00ff00" stroke-width="1.6" stroke-linejoin="round" stroke-linecap="butt"/>
<polyline points="853.6,1501.6 913.6,1506.2 973.2,1498.8 1031.0,1506.2 1050.0,1504.4 1091.0,1498.8 1132.0,1502.5 1164.5,1501.6 1191.6,1488.2 1214.8,1494.1 1235.3,1494.1 1249.3,1500.6 1261.4,1509.0 1293.7,1510.1 1304.0,1735.0" fill="none" stroke="#00ff00" stroke-width="1.6" stroke-linejoin="round" stroke-linecap="butt"/>
<polyline points="853.6,1551.9 913.6,1553.2 973.2,1553.7 1050.0,1551.9 1091.0,1547.2 1214.8,1556.5 1235.3,1567.7 1304.6,1568.0" fill="none" stroke="#0000ff" stroke-width="1.6" stroke-linejoin="round" stroke-linecap="butt"/>
<polyline points="853.6,1565.3 913.6,1553.7 973.2,1553.3 1031.0,1544.4 1091.0,1545.3 1235.3,1550.9 1249.3,1550.0 1293.7,1551.9 1304.6,1553.6" fill="none" stroke="#0000ff" stroke-width="1.6" stroke-linejoin="round" stroke-linecap="butt"/>
<polyline points="853.6,1569.0 913.6,1560.2 973.2,1552.8 1031.0,1554.6 1060.0,1550.9 1214.8,1558.4 1249.3,1561.2 1261.4,1551.9 1271.6,1551.9 1304.6,1564.5" fill="none" stroke="#0000ff" stroke-width="1.6" stroke-linejoin="round" stroke-linecap="butt"/>
<polyline points="853.6,1578.9 1060.0,1580.7 1164.5,1577.9 1191.6,1583.5 1235.3,1596.6 1271.6,1634.5 1283.0,1656.8 1294.0,1704.3 1298.0,1780.0 1303.4,1892.8" fill="none" stroke="#0000ff" stroke-width="1.6" stroke-linejoin="round" stroke-linecap="butt"/>
<polyline points="853.6,1575.7 913.6,1591.9 973.2,1609.2 1031.0,1610.0 1050.0,1604.0 1091.0,1592.8 1132.0,1587.2 1164.5,1581.7 1235.3,1577.9 1261.4,1565.8 1271.6,1565.0 1293.7,1544.7 1304.6,1546.2" fill="none" stroke="#0000ff" stroke-width="1.6" stroke-linejoin="round" stroke-linecap="butt"/>
<polyline points="853.6,1612.7 913.6,1615.8 973.2,1618.6 1031.0,1620.5 1050.0,1621.4 1132.0,1619.6 1164.5,1615.8 1214.8,1611.2 1235.3,1604.0 1249.3,1589.1 1271.6,1580.7 1293.7,1546.3 1304.6,1545.5" fill="none" stroke="#ff0000" stroke-width="1.6" stroke-linejoin="round" stroke-linecap="butt"/>
<polyline points="853.6,1614.9 1191.6,1614.0 1214.8,1614.9 1249.3,1617.7 1271.6,1626.1 1304.6,1641.0" fill="none" stroke="#0000ff" stroke-width="1.6" stroke-linejoin="round" stroke-linecap="butt"/>
<polyline points="853.6,1632.6 913.6,1626.1 973.2,1628.9 1031.0,1620.5 1050.0,1622.4 1164.5,1624.2 1214.8,1632.6 1235.3,1632.6 1271.6,1615.8 1283.0,1608.4 1304.6,1603.0" fill="none" stroke="#ff0000" stroke-width="1.6" stroke-linejoin="round" stroke-linecap="butt"/>
<polyline points="853.6,1637.3 913.6,1630.7 973.2,1619.6 1031.0,1619.6 1060.0,1618.0 1164.5,1619.0 1304.6,1626.1" fill="none" stroke="#ff0000" stroke-width="1.6" stroke-linejoin="round" stroke-linecap="butt"/>
<polyline points="853.6,1631.7 913.6,1633.9 973.2,1631.7 1031.0,1624.2 1060.0,1621.4 1164.5,1614.0 1214.8,1633.5 1235.3,1633.5 1249.3,1600.0 1261.4,1595.6 1304.6,1597.5" fill="none" stroke="#0000ff" stroke-width="1.6" stroke-linejoin="round" stroke-linecap="butt"/>
<polyline points="853.6,1631.3 1060.0,1636.3 1132.0,1635.4 1214.8,1633.5 1235.3,1616.8 1261.4,1611.2 1271.6,1620.5 1283.0,1617.7 1294.5,1606.0 1304.6,1518.3" fill="none" stroke="#00ff00" stroke-width="1.6" stroke-linejoin="round" stroke-linecap="butt"/>
<polyline points="853.6,1637.3 913.6,1639.1 973.2,1641.9 1060.0,1644.7 1132.0,1645.6 1214.8,1644.3 1249.3,1637.3 1261.4,1621.4 1294.5,1606.0 1304.6,1538.5" fill="none" stroke="#00ff00" stroke-width="1.6" stroke-linejoin="round" stroke-linecap="butt"/>
<polyline points="853.6,1648.0 913.6,1638.2 973.2,1641.0 1060.0,1641.3 1132.0,1640.0 1214.8,1639.1 1235.3,1631.7 1261.4,1621.4 1283.0,1611.2 1304.6,1607.6" fill="none" stroke="#ff0000" stroke-width="1.6" stroke-linejoin="round" stroke-linecap="butt"/>
<polyline points="853.6,1664.8 913.6,1663.7 973.2,1652.5 1060.0,1653.1 1132.0,1650.3 1214.8,1639.1 1271.6,1609.6 1293.7,1580.7 1304.6,1580.4" fill="none" stroke="#ff0000" stroke-width="1.6" stroke-linejoin="round" stroke-linecap="butt"/>
<polyline points="853.6,1643.2 913.6,1648.8 973.2,1653.1 1050.0,1660.5 1091.0,1665.2 1132.0,1671.7 1164.5,1680.1 1191.6,1689.4 1214.8,1700.6 1235.3,1711.8 1249.3,1726.7 1261.4,1743.4 1271.6,1763.9 1283.0,1800.0 1294.0,1860.0 1303.4,1941.2" fill="none" stroke="#0000ff" stroke-width="1.6" stroke-linejoin="round" stroke-linecap="butt"/>
<polyline points="853.6,1652.5 913.6,1648.8 973.2,1648.8 1050.0,1651.2 1164.5,1655.0 1214.8,1657.7 1235.3,1665.2 1249.3,1676.4 1261.4,1693.1 1271.6,1715.5 1283.0,1745.3 1294.0,1800.0 1303.4,1941.2" fill="none" stroke="#0000ff" stroke-width="1.6" stroke-linejoin="round" stroke-linecap="butt"/>
<polyline points="853.6,1678.6 913.6,1677.3 973.2,1683.8 1050.0,1692.2 1091.0,1696.9 1132.0,1704.3 1164.5,1712.7 1191.6,1721.1 1214.8,1731.3 1235.3,1743.4 1249.3,1757.4 1261.4,1776.0 1282.1,1816.4 1292.7,1853.2 1303.4,1941.2" fill="none" stroke="#ff0000" stroke-width="1.6" stroke-linejoin="round" stroke-linecap="butt"/>
<polyline points="853.6,1711.2 913.6,1711.8 973.2,1715.5 1050.0,1722.9 1091.0,1728.5 1132.0,1734.1 1164.5,1743.4 1191.6,1754.6 1214.8,1768.6 1235.7,1775.8 1249.2,1789.3 1270.5,1820.3 1282.1,1841.6 1303.4,1941.2" fill="none" stroke="#ff0000" stroke-width="1.6" stroke-linejoin="round" stroke-linecap="butt"/>
<polyline points="853.6,1723.9 913.6,1723.9 973.2,1727.6 1050.0,1735.0 1091.0,1738.8 1132.0,1746.2 1164.5,1754.6 1191.6,1763.9 1214.8,1774.1 1235.7,1790.0 1249.2,1800.0 1270.5,1828.0 1283.0,1848.0 1303.4,1941.2" fill="none" stroke="#ff0000" stroke-width="1.6" stroke-linejoin="round" stroke-linecap="butt"/>
<polyline points="853.6,1723.9 913.6,1727.6 973.2,1731.9 1050.0,1738.8 1091.0,1741.6 1164.5,1754.6 1191.6,1767.6 1214.4,1775.8 1234.7,1783.5 1249.2,1795.1 1269.5,1819.3 1282.1,1843.5 1303.4,1941.2" fill="none" stroke="#0000ff" stroke-width="1.6" stroke-linejoin="round" stroke-linecap="butt"/>
<polyline points="853.6,1735.0 913.6,1735.4 973.2,1738.8 1050.0,1745.3 1091.0,1749.0 1132.0,1764.8 1164.1,1778.7 1215.4,1788.4 1235.7,1798.0 1249.2,1807.7 1270.5,1833.8 1283.0,1851.2 1293.7,1878.3 1303.4,1941.2" fill="none" stroke="#ff0000" stroke-width="1.6" stroke-linejoin="round" stroke-linecap="butt"/>
<polyline points="853.6,1747.5 913.6,1748.6 973.2,1751.2 1031.0,1766.7 1060.0,1767.6 1131.2,1773.9 1214.4,1793.2 1235.7,1801.9 1250.2,1811.6 1270.5,1836.7 1283.0,1858.0 1293.7,1880.3 1303.4,1941.2" fill="none" stroke="#0000ff" stroke-width="1.6" stroke-linejoin="round" stroke-linecap="butt"/>
<polyline points="853.6,1760.5 913.6,1758.3 973.2,1759.2 1031.0,1762.0 1060.0,1763.9 1164.5,1769.5 1214.8,1774.1 1250.0,1800.0 1270.5,1826.0 1285.0,1850.0 1303.4,1941.2" fill="none" stroke="#0000ff" stroke-width="1.6" stroke-linejoin="round" stroke-linecap="butt"/>
<polyline points="853.6,1470.0 1132.0,1469.5 1191.6,1471.8 1214.8,1470.3 1249.3,1473.6 1261.4,1469.5 1293.7,1471.7 1304.6,1471.7" fill="none" stroke="#000000" stroke-width="1.8" stroke-linejoin="round" stroke-linecap="butt"/>
</svg></body></html>
